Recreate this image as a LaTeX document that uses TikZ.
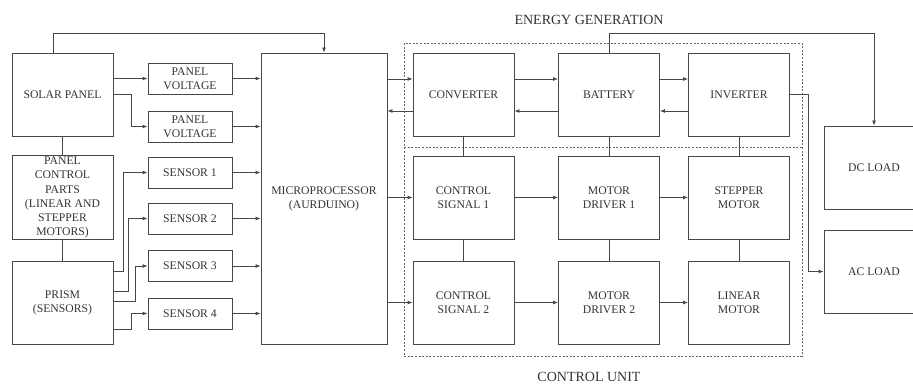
\documentclass[tikz,border=0pt]{standalone}
\usepackage{fontspec}
\setmainfont{Liberation Serif}
\usetikzlibrary{arrows.meta,calc}
\begin{document}
\begin{tikzpicture}[x=1pt,y=-1pt,
  blk/.style={draw=black!72,line width=0.85pt,text=black!80,align=center,inner sep=1pt,
    font=\fontsize{11.7}{14.2}\selectfont},
  big/.style={blk,minimum width=101pt,minimum height=83pt},
  small/.style={blk,minimum width=84pt,minimum height=31pt},
  ln/.style={draw=black!72,line width=0.85pt},
  arr/.style={ln,-{Latex[length=5pt,width=4pt]}},
  dsh/.style={draw=black!60,line width=0.6pt,dash pattern=on 2pt off 1.6pt},
  lbl/.style={text=black!80,font=\fontsize{14}{16}\selectfont}]
\useasboundingbox (0,0) rectangle (913,385);
% left column
\node[big] (solar) at (62.5,94.5) {SOLAR PANEL};
\node[big] (pcp) at (62.5,197.5) {PANEL\\CONTROL\\PARTS\\(LINEAR AND\\STEPPER\\MOTORS)};
\node[big] (prism) at (62.5,302.5) {PRISM\\(SENSORS)};
% small boxes
\node[small] (pv1) at (190,78.5) {PANEL\\VOLTAGE};
\node[small] (pv2) at (190,126.5) {PANEL\\VOLTAGE};
\node[small] (s1) at (190,172.5) {SENSOR 1};
\node[small] (s2) at (190,218.5) {SENSOR 2};
\node[small] (s3) at (190,266) {SENSOR 3};
\node[small] (s4) at (190,313.5) {SENSOR 4};
% microprocessor
\node[blk,minimum width=126pt,minimum height=291pt] (micro) at (324,198.5) {MICROPROCESSOR\\(AURDUINO)};
% energy generation
\node[big] (conv) at (463.5,94.5) {CONVERTER};
\node[big] (batt) at (609,94.5) {BATTERY};
\node[big] (inv) at (739,94.5) {INVERTER};
% control unit
\node[big] (cs1) at (463.5,197.5) {CONTROL\\SIGNAL 1};
\node[big] (md1) at (609,197.5) {MOTOR\\DRIVER 1};
\node[big] (sm) at (739,197.5) {STEPPER\\MOTOR};
\node[big] (cs2) at (463.5,302.5) {CONTROL\\SIGNAL 2};
\node[big] (md2) at (609,302.5) {MOTOR\\DRIVER 2};
\node[big] (lm) at (739,302.5) {LINEAR\\MOTOR};
% loads
\node[big,minimum width=100pt] (dc) at (874,167.5) {DC LOAD};
\node[big,minimum width=100pt] (ac) at (874,271.5) {AC LOAD};
% dashed groups
\draw[dsh] (404,43) rectangle (802,356);
\draw[dsh] (404,147) -- (802,147);
\node[lbl] (eg) at (589,20) {ENERGY GENERATION};
\node[lbl] (cu) at (589,377) {CONTROL UNIT};
% connectors left
\draw[arr] ([xshift=-9.5pt]solar.north) -- ++(0,-19) -| (micro.north);
\draw[arr] (solar.east |- pv1.west) -- (pv1.west);
\draw[arr] (solar.east) -- ++(18,0) |- (pv2.west);
\draw[ln] (solar.south) -- (pcp.north);
\draw[ln] (pcp.south) -- (prism.north);
\draw[arr] ($(prism.north east)+(0,11)$) -- ++(10,0) |- (s1.west);
\draw[arr] ($(prism.north east)+(0,31)$) -- ++(15,0) |- (s2.west);
\draw[arr] ($(prism.north east)+(0,41)$) -- ++(22,0) |- (s3.west);
\draw[arr] ($(prism.north east)+(0,69)$) -- ++(18,0) |- (s4.west);
\foreach \n in {pv1,pv2,s1,s2,s3,s4} \draw[arr] (\n.east) -- (\n.east -| micro.west);
% micro <-> converter
\coordinate (cin) at ([yshift=15.5pt]conv.west);
\coordinate (cout) at ([yshift=-16.5pt]conv.west);
\draw[arr] (micro.east |- cin) -- (cin);
\draw[arr] (cout) -- (micro.east |- cout);
\coordinate (bin) at ([yshift=15.5pt]batt.west);
\coordinate (bout) at ([yshift=-16.5pt]batt.west);
\draw[arr] (conv.east |- bin) -- (bin);
\draw[arr] (bout) -- (conv.east |- bout);
\coordinate (iin) at ([yshift=15.5pt]inv.west);
\coordinate (iout) at ([yshift=-16.5pt]inv.west);
\draw[arr] (batt.east |- iin) -- (iin);
\draw[arr] (iout) -- (batt.east |- iout);
% loads
\draw[arr] (batt.north) -- ++(0,-19) -| (dc.north);
\draw[arr] (inv.east) -- ++(18,0) |- (ac.west);
% control
\draw[arr] (micro.east |- cs1.west) -- (cs1.west);
\draw[arr] (micro.east |- cs2.west) -- (cs2.west);
\draw[arr] (cs1) -- (md1);
\draw[arr] (md1) -- (sm);
\draw[arr] (cs2) -- (md2);
\draw[arr] (md2) -- (lm);
\draw[ln] (conv) -- (cs1); \draw[ln] (cs1) -- (cs2);
\draw[ln] (batt) -- (md1); \draw[ln] (md1) -- (md2);
\draw[ln] (inv) -- (sm); \draw[ln] (sm) -- (lm);
\end{tikzpicture}
\end{document}
